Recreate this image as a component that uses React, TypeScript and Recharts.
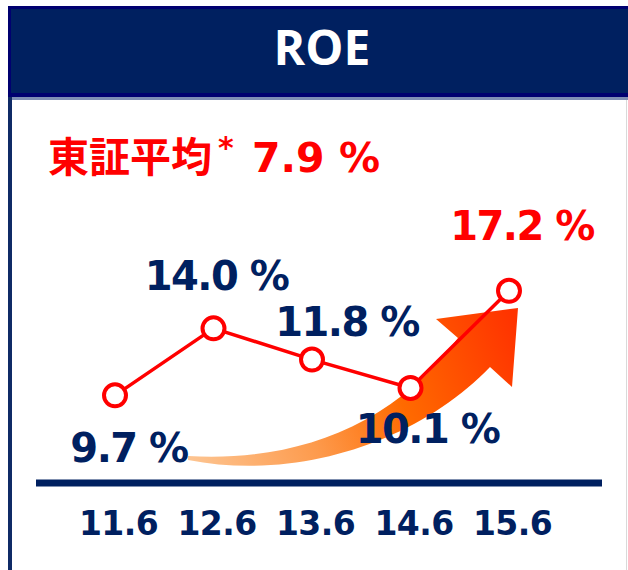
import React from 'react';
import { LineChart, Line, XAxis, YAxis, LabelList } from 'recharts';

// fiscal periods (year.month) and ROE in %
const periods = ['11.6', '12.6', '13.6', '14.6', '15.6'];
const roeValues = [9.7, 14.0, 11.8, 10.1, 17.2];
const tseAverage = 7.9;

// label placement relative to each point (dx, dy of the baseline)
const labelOffsets = [
  [14, 67],
  [3, -38],
  [35, -24],
  [17, 55],
  [13, -51],
];

const NAVY = '#002060';
const RED = '#ff0000';
const LABEL_FONT = '"DejaVu Sans", Verdana, sans-serif';

const data = periods.map((p, i) => ({ period: p, roe: roeValues[i] }));

const ValueLabel = (props: any) => {
  const { x, y, index, value } = props;
  const [dx, dy] = labelOffsets[index] || [0, 0];
  const last = index === roeValues.length - 1;
  return (
    <text
      x={x + dx}
      y={y + dy}
      textAnchor="middle"
      fill={last ? RED : NAVY}
      fontFamily={LABEL_FONT}
      fontWeight="bold"
      fontSize={40}
      letterSpacing={-1.5}
    >
      {Number(value).toFixed(1)} %
    </text>
  );
};

const PeriodTick = ({ x, y, payload }: any) => (
  <text
    x={x + 3.5}
    y={y + 44}
    textAnchor="middle"
    fill={NAVY}
    fontFamily={LABEL_FONT}
    fontWeight="bold"
    fontSize={33}
    letterSpacing={-0.6}
  >
    {payload.value}
  </text>
);

const Backdrop = () => (
  <svg width={628} height={570} style={{ position: 'absolute', left: 0, top: 0 }}>
    <defs>
      <linearGradient id="arrowGrad" gradientUnits="userSpaceOnUse" x1={188} y1={460} x2={518} y2={330}>
        <stop offset="0" stopColor="#fdc592" />
        <stop offset="0.35" stopColor="#fd9a4c" />
        <stop offset="0.62" stopColor="#ff6a00" />
        <stop offset="1" stopColor="#ff3300" />
      </linearGradient>
    </defs>
    {/* header band */}
    <rect x={8} y={6} width={640} height={91} fill="#000070" />
    <rect x={11} y={9} width={640} height={84} fill={NAVY} />
    <rect x={8} y={97} width={640} height={3} fill="#7f8fb5" />
    <rect x={8} y={97} width={4} height={473} fill="#0f2a66" />
    <rect x={626} y={100} width={1} height={470} fill="#d9d9d9" />
    <text
      x={322}
      y={65}
      textAnchor="middle"
      fill="#fff"
      fontFamily='"Open Sans", "Noto Sans", sans-serif'
      fontWeight="bold"
      fontSize={48}
    >
      ROE
    </text>
    <text y={172} fill={RED} fontWeight="bold" fontSize={41}>
      <tspan x={48} fontFamily='"Noto Sans CJK JP", sans-serif'>東証平均</tspan>
      <tspan x={218} dy={-14} fontSize={30} fontFamily={LABEL_FONT}>*</tspan>
      <tspan x={252} dy={14} fontFamily={LABEL_FONT} letterSpacing={0}>
        {tseAverage.toFixed(1)} %
      </tspan>
    </text>
    {/* rising arrow */}
    <path
      d="M 188 456 C 290 462, 390 430, 458 338 L 436 319 L 518 308 L 512 387 L 490 367 C 420 440, 300 482, 188 460 Z"
      fill="url(#arrowGrad)"
    />
  </svg>
);

export default function App() {
  return (
    <div style={{ position: 'absolute', left: 0, top: 0, width: 628, height: 570, background: '#fff', overflow: 'hidden' }}>
      <Backdrop />
      <div style={{ position: 'absolute', left: 0, top: 0 }}>
        <LineChart width={628} height={570} data={data} margin={{ top: 230, right: 26, bottom: 27, left: 36 }}>
          <XAxis
            dataKey="period"
            scale="point"
            padding={{ left: 79, right: 93 }}
            height={60}
            axisLine={{ stroke: NAVY, strokeWidth: 7 }}
            tickLine={false}
            tick={<PeriodTick />}
            interval={0}
          />
          <YAxis hide scale="log" domain={[6, 24]} allowDataOverflow />
          <Line
            type="linear"
            dataKey="roe"
            stroke={RED}
            strokeWidth={3.5}
            dot={{ r: 11, stroke: RED, strokeWidth: 4, fill: '#fff' }}
            activeDot={false}
            isAnimationActive={false}
          >
            <LabelList dataKey="roe" content={<ValueLabel />} />
          </Line>
        </LineChart>
      </div>
    </div>
  );
}
